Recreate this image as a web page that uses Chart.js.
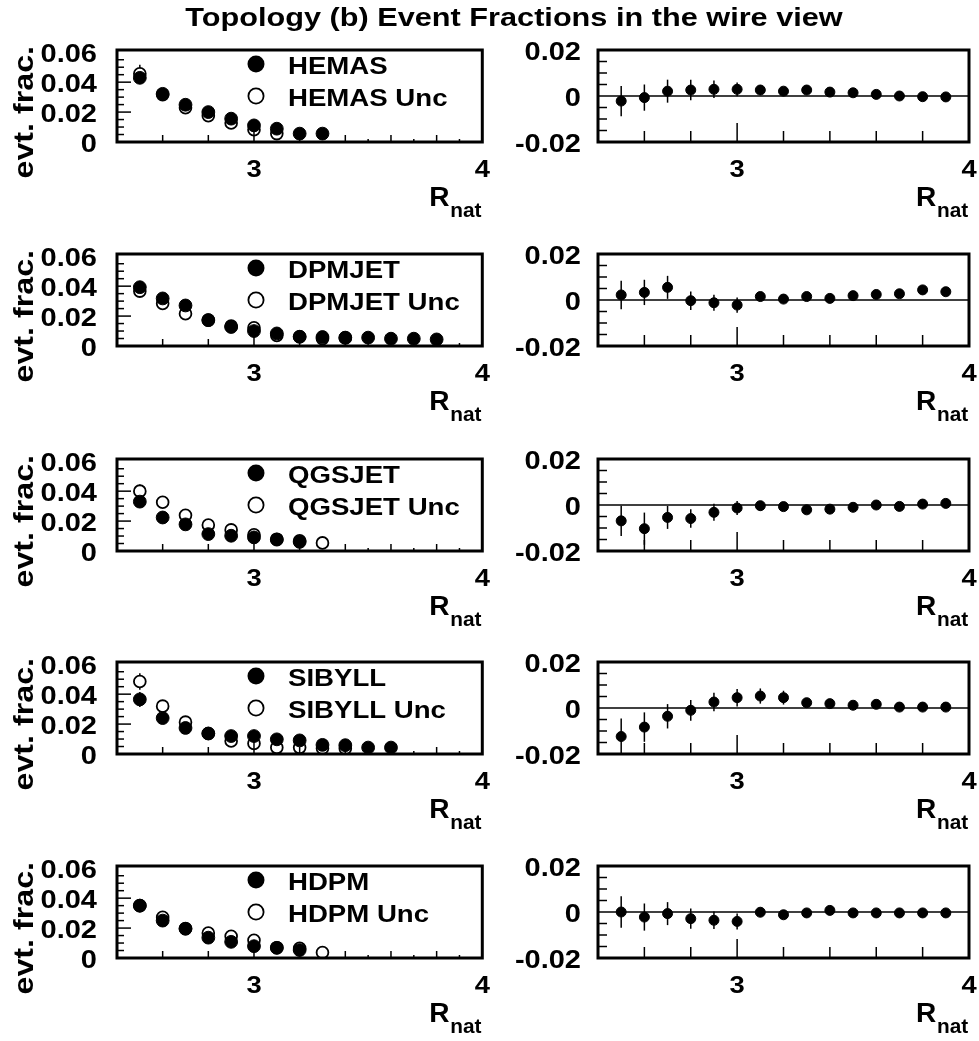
<!DOCTYPE html>
<html lang="en">
<head>
<meta charset="UTF-8">
<title>Topology (b) Event Fractions in the wire view</title>
<script src="https://cdn.jsdelivr.net/npm/chart.js"></script>
<style>
    body {
        margin: 0;
        background: #ffffff;
    }
    #page {
        position: relative;
        width: 979px;
        height: 1041px;
        overflow: hidden;
        background: #ffffff;
    }
    #page canvas {
        position: absolute;
    }
    #title {
        position: absolute;
        left: 514px;
        top: 4px;
        font: bold 26px/26px "Liberation Sans", Arial, Helvetica, sans-serif;
        white-space: nowrap;
        transform: translateX(-50%) scaleX(1.18);
        z-index: 2;
    }
</style>
</head>
<body>
<div id="page">
    <div id="title">Topology (b) Event Fractions in the wire view</div>
</div>

<script>
    // bin centres of R_nat
    const binCenters = [2.5, 2.6, 2.7, 2.8, 2.9, 3.0, 3.1, 3.2, 3.3, 3.4, 3.5, 3.6, 3.7, 3.8, 3.9];

    // tick labels
    const xTickLabels = [3, 4];
    const fracTickLabels = [0, 0.02, 0.04, 0.06];
    const diffTickLabels = [-0.02, 0, 0.02];

    // HEMAS
    const hemasFrac = [0.0429, 0.0322, 0.0249, 0.0200, 0.0156, 0.0111, 0.0089, 0.0056, 0.0056];
    const hemasFracErr = [0.0040, 0.0030, 0.0025, 0.0020, 0.0018, 0.0015, 0.0013, 0.0010, 0.0010];
    const hemasUnc = [0.0456, 0.0316, 0.0229, 0.0176, 0.0127, 0.0082, 0.0056];
    const hemasUncErr = [0.0060, 0.0035, 0.0030, 0.0025, 0.0020, 0.0018, 0.0015];
    const hemasDiff = [-0.0022, -0.0007, 0.0021, 0.0026, 0.0029, 0.0029, 0.0026, 0.0021, 0.0026, 0.0017, 0.0014, 0.0007, 0.0000, -0.0003, -0.0004];
    const hemasDiffErr = [0.0066, 0.0057, 0.0050, 0.0045, 0.0038, 0.0030, 0.0022, 0.0018, 0.0016, 0.0014, 0.0012, 0.0010, 0.0010, 0.0008, 0.0008];

    // DPMJET
    const dpmjetFrac = [0.0393, 0.0318, 0.0271, 0.0173, 0.0127, 0.0100, 0.0084, 0.0062, 0.0060, 0.0056, 0.0056, 0.0049, 0.0049, 0.0044];
    const dpmjetFracErr = [0.0040, 0.0030, 0.0025, 0.0020, 0.0018, 0.0015, 0.0013, 0.0010, 0.0010, 0.0010, 0.0010, 0.0008, 0.0008, 0.0008];
    const dpmjetUnc = [0.0367, 0.0284, 0.0216, 0.0173, 0.0133, 0.0122, 0.0071, 0.0062, 0.0049, 0.0054];
    const dpmjetUncErr = [0.0040, 0.0030, 0.0025, 0.0020, 0.0018, 0.0015, 0.0013, 0.0010, 0.0010, 0.0010];
    const dpmjetDiff = [0.0022, 0.0033, 0.0055, -0.0003, -0.0012, -0.0022, 0.0015, 0.0004, 0.0015, 0.0007, 0.0019, 0.0024, 0.0027, 0.0044, 0.0036];
    const dpmjetDiffErr = [0.0062, 0.0055, 0.0050, 0.0040, 0.0035, 0.0033, 0.0020, 0.0016, 0.0014, 0.0012, 0.0012, 0.0010, 0.0010, 0.0010, 0.0010];

    // QGSJET
    const qgsjetFrac = [0.0330, 0.0224, 0.0178, 0.0113, 0.0102, 0.0091, 0.0076, 0.0061];
    const qgsjetFracErr = [0.0040, 0.0030, 0.0025, 0.0020, 0.0018, 0.0015, 0.0013, 0.0010];
    const qgsjetUnc = [0.0400, 0.0326, 0.0239, 0.0174, 0.0141, 0.0109, 0.0079, 0.0068, 0.0054];
    const qgsjetUncErr = [0.0045, 0.0035, 0.0030, 0.0022, 0.0018, 0.0015, 0.0013, 0.0012, 0.0010];
    const qgsjetDiff = [-0.0069, -0.0103, -0.0054, -0.0059, -0.0032, -0.0013, -0.0003, -0.0007, -0.0021, -0.0018, -0.0010, 0.0000, -0.0006, 0.0004, 0.0007];
    const qgsjetDiffErr = [0.0066, 0.0070, 0.0050, 0.0040, 0.0037, 0.0030, 0.0020, 0.0016, 0.0014, 0.0012, 0.0012, 0.0010, 0.0010, 0.0010, 0.0010];

    // SIBYLL
    const sibyllFrac = [0.0365, 0.0240, 0.0174, 0.0137, 0.0120, 0.0120, 0.0098, 0.0091, 0.0061, 0.0059, 0.0043, 0.0043];
    const sibyllFracErr = [0.0050, 0.0033, 0.0025, 0.0020, 0.0018, 0.0016, 0.0014, 0.0012, 0.0010, 0.0010, 0.0008, 0.0008];
    const sibyllUnc = [0.0485, 0.0320, 0.0213, 0.0137, 0.0087, 0.0070, 0.0043, 0.0043, 0.0039, 0.0037];
    const sibyllUncErr = [0.0055, 0.0040, 0.0030, 0.0022, 0.0018, 0.0016, 0.0014, 0.0012, 0.0010, 0.0010];
    const sibyllDiff = [-0.0124, -0.0083, -0.0036, -0.0010, 0.0026, 0.0045, 0.0052, 0.0045, 0.0023, 0.0019, 0.0012, 0.0016, 0.0004, 0.0004, 0.0004];
    const sibyllDiffErr = [0.0078, 0.0064, 0.0053, 0.0045, 0.0040, 0.0038, 0.0033, 0.0030, 0.0016, 0.0014, 0.0012, 0.0012, 0.0010, 0.0010, 0.0010];

    // HDPM
    const hdpmFrac = [0.0350, 0.0250, 0.0196, 0.0136, 0.0108, 0.0079, 0.0068, 0.0053];
    const hdpmFracErr = [0.0040, 0.0030, 0.0025, 0.0020, 0.0018, 0.0015, 0.0013, 0.0010];
    const hdpmUnc = [0.0350, 0.0272, 0.0196, 0.0167, 0.0145, 0.0119, 0.0069, 0.0065, 0.0037];
    const hdpmUncErr = [0.0045, 0.0035, 0.0030, 0.0022, 0.0018, 0.0015, 0.0013, 0.0012, 0.0010];
    const hdpmDiff = [0.0000, -0.0022, -0.0007, -0.0029, -0.0036, -0.0041, -0.0001, -0.0012, -0.0004, 0.0007, -0.0004, -0.0004, -0.0004, -0.0004, -0.0004];
    const hdpmDiffErr = [0.0068, 0.0059, 0.0050, 0.0044, 0.0038, 0.0035, 0.0020, 0.0016, 0.0014, 0.0012, 0.0012, 0.0010, 0.0010, 0.0010, 0.0010];

    const models = [
        { name: 'HEMAS', frac: hemasFrac, fracErr: hemasFracErr, unc: hemasUnc, uncErr: hemasUncErr, diff: hemasDiff, diffErr: hemasDiffErr },
        { name: 'DPMJET', frac: dpmjetFrac, fracErr: dpmjetFracErr, unc: dpmjetUnc, uncErr: dpmjetUncErr, diff: dpmjetDiff, diffErr: dpmjetDiffErr },
        { name: 'QGSJET', frac: qgsjetFrac, fracErr: qgsjetFracErr, unc: qgsjetUnc, uncErr: qgsjetUncErr, diff: qgsjetDiff, diffErr: qgsjetDiffErr },
        { name: 'SIBYLL', frac: sibyllFrac, fracErr: sibyllFracErr, unc: sibyllUnc, uncErr: sibyllUncErr, diff: sibyllDiff, diffErr: sibyllDiffErr },
        { name: 'HDPM', frac: hdpmFrac, fracErr: hdpmFracErr, unc: hdpmUnc, uncErr: hdpmUncErr, diff: hdpmDiff, diffErr: hdpmDiffErr }
    ];

    // pad geometry
    const frameTops = [50, 254, 459, 662, 866];
    const frameHeight = 92;
    const padHeight = 225;
    const FONT = '"Liberation Sans", Arial, Helvetica, sans-serif';

    function points(values) {
        return values.map((v, i) => ({ x: binCenters[i], y: v }));
    }

    function fmt(v) {
        return v === 0 ? '0' : v.toFixed(2);
    }

    // bold text, stretched along its own direction
    function drawText(ctx, str, x, y, size, align, stretch, angle) {
        ctx.save();
        ctx.translate(x, y);
        if (angle) ctx.rotate(angle);
        ctx.scale(stretch, 1);
        ctx.font = 'bold ' + size + 'px ' + FONT;
        ctx.textAlign = align;
        ctx.textBaseline = 'alphabetic';
        ctx.fillStyle = '#000';
        ctx.fillText(str, 0, 0);
        ctx.restore();
    }

    function line(ctx, x1, y1, x2, y2) {
        ctx.beginPath();
        ctx.moveTo(x1, y1);
        ctx.lineTo(x2, y2);
        ctx.stroke();
    }

    // frame, inward ticks, labels, error bars and legend in the ROOT look
    const rootStyle = {
        id: 'rootStyle',
        beforeDatasetsDraw(chart, args, opts) {
            const ctx = chart.ctx, a = chart.chartArea;
            const xs = chart.scales.x, ys = chart.scales.y;
            ctx.save();
            ctx.strokeStyle = '#000';
            if (opts.zeroLine) {
                ctx.lineWidth = 1.5;
                const y0 = ys.getPixelForValue(0);
                line(ctx, a.left, y0, a.right, y0);
            }
            ctx.lineWidth = 1.5;
            chart.data.datasets.forEach(ds => {
                if (!ds.errors) return;
                ds.data.forEach((p, i) => {
                    const px = xs.getPixelForValue(p.x);
                    line(ctx, px, ys.getPixelForValue(p.y - ds.errors[i]), px, ys.getPixelForValue(p.y + ds.errors[i]));
                });
            });
            ctx.restore();
        },
        afterDatasetsDraw(chart, args, opts) {
            const ctx = chart.ctx, a = chart.chartArea;
            const xs = chart.scales.x, ys = chart.scales.y;
            ctx.save();
            ctx.strokeStyle = '#000';
            ctx.lineWidth = 1.5;

            opts.xTicks.forEach(t => {
                const px = xs.getPixelForValue(t.v);
                line(ctx, px, a.bottom, px, a.bottom - t.len);
            });
            opts.yTicks.forEach(t => {
                const py = ys.getPixelForValue(t.v);
                line(ctx, a.left, py, a.left + t.len, py);
            });

            ctx.lineWidth = 3;
            ctx.strokeRect(a.left, a.top, a.right - a.left, a.bottom - a.top);

            xTickLabels.forEach(v => {
                drawText(ctx, String(v), xs.getPixelForValue(v), a.bottom + 35, 24, 'center', 1.14);
            });
            opts.yLabels.forEach(v => {
                drawText(ctx, fmt(v), a.left - opts.labelGap, ys.getPixelForValue(v) + 10, 25, 'right', 1.16);
            });

            drawText(ctx, 'R', a.right - 53, a.bottom + 64, 27, 'left', 1.04);
            drawText(ctx, 'nat', a.right - 32, a.bottom + 75, 20, 'left', 1.04);

            if (opts.yTitle) {
                drawText(ctx, opts.yTitle, 33, a.top - 4, 28, 'right', 1.15, -Math.PI / 2);
            }

            if (opts.legend) {
                const lx = 256, ly1 = a.top + 14, ly2 = a.top + 46;
                ctx.fillStyle = '#000';
                ctx.beginPath();
                ctx.arc(lx, ly1, 8.5, 0, Math.PI * 2);
                ctx.fill();
                ctx.lineWidth = 1.8;
                ctx.fillStyle = '#fff';
                ctx.beginPath();
                ctx.arc(lx, ly2, 7.6, 0, Math.PI * 2);
                ctx.fill();
                ctx.stroke();
                drawText(ctx, opts.legend[0], 288, ly1 + 9.5, 24, 'left', 1.15);
                drawText(ctx, opts.legend[1], 288, ly2 + 9.5, 24, 'left', 1.15);
            }
            ctx.restore();
        }
    };

    const xMajor = [3];
    const xMinor = [2.6, 2.8, 3.2, 3.4, 3.6, 3.8];
    const xSmall = [3.5, 3.7, 3.9];
    const fracMajor = [0.02, 0.04];
    const fracMinor = [0.005, 0.01, 0.015, 0.025, 0.03, 0.035, 0.045, 0.05, 0.055];
    const diffMinor = [-0.015, -0.01, -0.005, 0.005, 0.01, 0.015];

    const page = document.getElementById('page');

    function makeCanvas(left, top, w, h) {
        const c = document.createElement('canvas');
        c.width = w;
        c.height = h;
        c.style.left = left + 'px';
        c.style.top = top + 'px';
        c.style.width = w + 'px';
        c.style.height = h + 'px';
        page.appendChild(c);
        return c;
    }

    models.forEach((m, r) => {
        // pads overlap a little so the axis title below the frame is not cut off
        const top = frameTops[r] - 50;
        const h = Math.min(padHeight, 1041 - top);
        const padBottom = h - 50 - frameHeight;

        // left pad: event fractions
        new Chart(makeCanvas(0, top, 490, h), {
            type: 'scatter',
            data: {
                datasets: [
                    {
                        label: m.name,
                        data: points(m.frac),
                        errors: m.fracErr,
                        backgroundColor: '#000',
                        borderColor: '#000',
                        borderWidth: 1,
                        pointRadius: 6.4,
                        order: 0
                    },
                    {
                        label: m.name + ' Unc',
                        data: points(m.unc),
                        errors: m.uncErr,
                        backgroundColor: '#fff',
                        borderColor: '#000',
                        borderWidth: 1.8,
                        pointRadius: 5.9,
                        order: 1
                    }
                ]
            },
            options: {
                responsive: false,
                animation: false,
                events: [],
                layout: { padding: { left: 117, right: 4, top: 50, bottom: padBottom } },
                scales: {
                    x: { type: 'linear', display: false, min: 2.4, max: 4.0 },
                    y: { type: 'linear', display: false, min: 0, max: 0.0615 }
                },
                plugins: {
                    legend: { display: false },
                    tooltip: { enabled: false },
                    rootStyle: {
                        xTicks: xMajor.map(v => ({ v, len: 14 }))
                            .concat(xMinor.map(v => ({ v, len: 7 })))
                            .concat(xSmall.map(v => ({ v, len: 3 }))),
                        yTicks: fracMajor.map(v => ({ v, len: 14 })).concat(fracMinor.map(v => ({ v, len: 7 }))),
                        yLabels: fracTickLabels,
                        labelGap: 20,
                        yTitle: 'evt. frac.',
                        legend: [m.name, m.name + ' Unc']
                    }
                }
            },
            plugins: [rootStyle]
        });

        // right pad: difference
        new Chart(makeCanvas(490, top, 489, h), {
            type: 'scatter',
            data: {
                datasets: [{
                    label: m.name + ' diff',
                    data: points(m.diff),
                    errors: m.diffErr,
                    backgroundColor: '#000',
                    borderColor: '#000',
                    borderWidth: 1,
                    pointRadius: 5
                }]
            },
            options: {
                responsive: false,
                animation: false,
                events: [],
                layout: { padding: { left: 108, right: 10, top: 50, bottom: padBottom } },
                scales: {
                    x: { type: 'linear', display: false, min: 2.4, max: 4.0 },
                    y: { type: 'linear', display: false, min: -0.02, max: 0.02 }
                },
                plugins: {
                    legend: { display: false },
                    tooltip: { enabled: false },
                    rootStyle: {
                        zeroLine: true,
                        xTicks: xMajor.map(v => ({ v, len: 19 })).concat(xMinor.map(v => ({ v, len: 11 }))),
                        yTicks: diffMinor.map(v => ({ v, len: 9 })),
                        yLabels: diffTickLabels,
                        labelGap: 17
                    }
                }
            },
            plugins: [rootStyle]
        });
    });
</script>
</body>
</html>
